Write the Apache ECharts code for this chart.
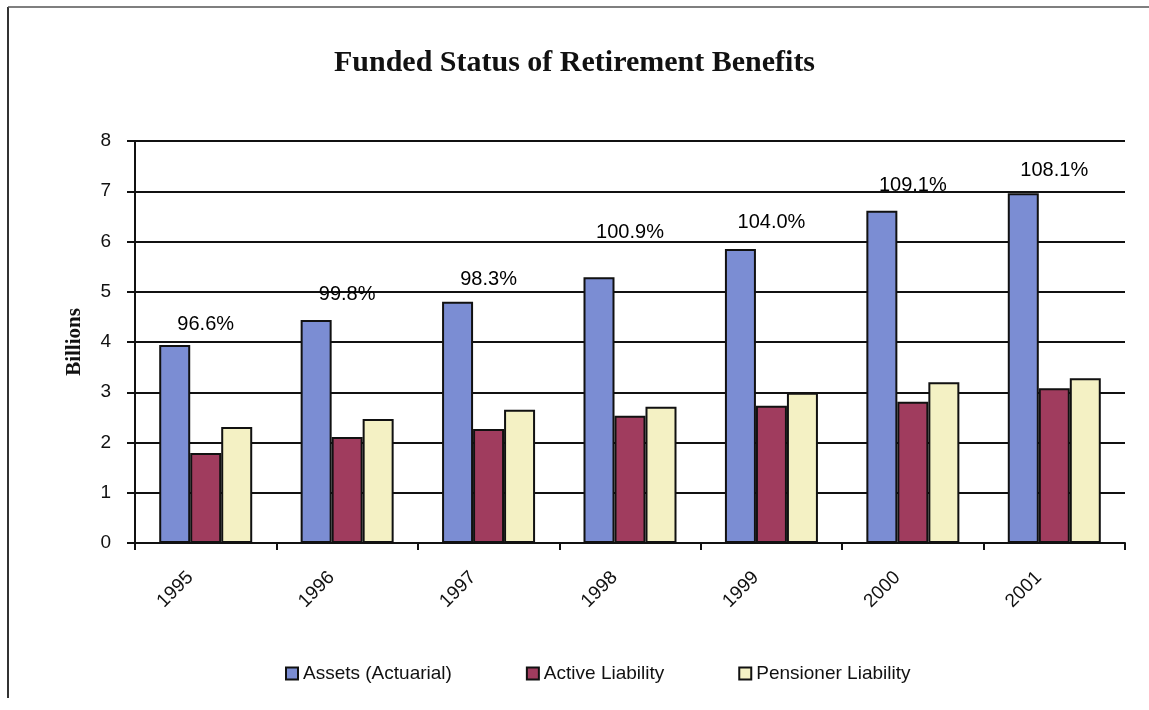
<!DOCTYPE html>
<html>
<head>
<meta charset="utf-8">
<title>Funded Status of Retirement Benefits</title>
<script src="https://cdn.jsdelivr.net/npm/echarts@6/dist/echarts.min.js"></script>
<style>
    html, body { margin: 0; padding: 0; background: #fff; }
    #chart { width: 1149px; height: 710px; }
</style>
</head>
<body>
<div id="chart"></div>
<script>
// categories and series values (billions)
var years = ['1995', '1996', '1997', '1998', '1999', '2000', '2001'];
var assets = [3.94, 4.44, 4.80, 5.29, 5.85, 6.61, 6.96];
var activeLiability = [1.79, 2.11, 2.27, 2.53, 2.73, 2.81, 3.08];
var pensionerLiability = [2.31, 2.47, 2.65, 2.71, 2.99, 3.20, 3.28];
// funded ratio labels and the height they sit at
var fundedRatio = ['96.6%', '99.8%', '98.3%', '100.9%', '104.0%', '109.1%', '108.1%'];
var ratioLevel = [4.34, 4.94, 5.25, 6.18, 6.38, 7.12, 7.42];
var yTicks = [0, 1, 2, 3, 4, 5, 6, 7, 8];

var chart = echarts.init(document.getElementById('chart'));

var barBorder = {
    borderColor: '#111',
    borderWidth: 2
};

var option = {
    backgroundColor: '#fff',
    animation: false,
    title: {
        text: 'Funded Status of Retirement Benefits',
        left: 'center',
        top: 43,
        textStyle: {
            fontFamily: 'Liberation Serif',
            fontWeight: 'bold',
            fontSize: 30,
            color: '#111'
        }
    },
    graphic: [
        // outer frame (only left and top edges show in the scan)
        { type: 'line', shape: { x1: 8, y1: 7, x2: 8, y2: 698 }, style: { stroke: '#333', lineWidth: 2 } },
        { type: 'line', shape: { x1: 8, y1: 7, x2: 1149, y2: 7 }, style: { stroke: '#555', lineWidth: 1.5 } }
    ],
    legend: {
        bottom: 22,
        left: 280,
        itemWidth: 12,
        itemHeight: 12,
        itemGap: 74,
        icon: 'rect',
        textStyle: {
            fontFamily: 'Liberation Sans',
            fontSize: 19,
            color: '#111'
        },
        data: ['Assets (Actuarial)', 'Active Liability', 'Pensioner Liability']
    },
    grid: {
        left: 135,
        right: 24,
        top: 141,
        bottom: 167
    },
    xAxis: {
        type: 'category',
        data: years,
        axisLine: { lineStyle: { color: '#111', width: 2 } },
        axisTick: { show: true, length: 7, lineStyle: { color: '#111', width: 2 } },
        axisLabel: {
            rotate: 45,
            margin: 16,
            padding: [0, 22, 0, 0],
            fontFamily: 'Liberation Sans',
            fontSize: 19,
            color: '#111'
        }
    },
    yAxis: {
        type: 'value',
        min: yTicks[0],
        max: yTicks[yTicks.length - 1],
        interval: 1,
        name: 'Billions',
        nameLocation: 'middle',
        nameGap: 50,
        nameTextStyle: {
            fontFamily: 'Liberation Serif',
            fontWeight: 'bold',
            fontSize: 21,
            color: '#111'
        },
        axisLine: { show: true, lineStyle: { color: '#111', width: 2 } },
        axisTick: { show: true, length: 8, lineStyle: { color: '#111', width: 2 } },
        axisLabel: {
            margin: 24,
            fontFamily: 'Liberation Sans',
            fontSize: 19,
            color: '#111'
        },
        splitLine: { show: true, lineStyle: { color: '#111', width: 2 } }
    },
    series: [
        {
            name: 'Assets (Actuarial)',
            type: 'bar',
            data: assets,
            barWidth: 31,
            barGap: '0%',
            itemStyle: Object.assign({ color: '#7B8DD3' }, barBorder)
        },
        {
            name: 'Active Liability',
            type: 'bar',
            data: activeLiability,
            barWidth: 31,
            barGap: '0%',
            itemStyle: Object.assign({ color: '#A03C5E' }, barBorder)
        },
        {
            name: 'Pensioner Liability',
            type: 'bar',
            data: pensionerLiability,
            barWidth: 31,
            barGap: '0%',
            itemStyle: Object.assign({ color: '#F4F1C4' }, barBorder)
        },
        {
            name: 'Funded Ratio',
            type: 'scatter',
            data: ratioLevel,
            symbolSize: 1,
            itemStyle: { color: 'rgba(0,0,0,0)' },
            label: {
                show: true,
                position: 'inside',
                formatter: function (p) { return fundedRatio[p.dataIndex]; },
                fontFamily: 'Liberation Sans',
                fontSize: 20,
                color: '#000',
                opacity: 1,
                textBorderWidth: 0
            },
            z: 5
        }
    ]
};

chart.setOption(option);
</script>
</body>
</html>
